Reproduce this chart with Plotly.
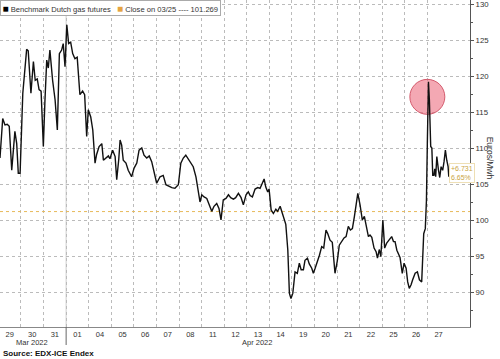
import plotly.graph_objects as go

# ---- data ----
day_labels = ["29", "30", "31", "01", "04", "05", "06", "07", "08", "11",
              "12", "13", "14", "19", "20", "21", "22", "25", "26", "27"]
month_labels = ["Mar 2022", "Apr 2022"]
month_label_pos = [1.49, 11.46]      # trading-day position of month label
month_break = 3                      # boundary between 31 Mar and 01 Apr

# trading-day position (day index + fraction of session) and price (EUR/MWh)
t = [0.07, 0.19, 0.29, 0.39, 0.48, 0.59, 0.73, 0.81, 0.88, 0.96,
     1.08, 1.18, 1.25, 1.32, 1.44, 1.55, 1.63, 1.72, 1.80, 1.89,
     1.99, 2.06, 2.14, 2.21, 2.28, 2.40, 2.51, 2.61, 2.70, 2.80,
     2.87, 2.95, 3.03, 3.11, 3.20, 3.29, 3.39, 3.49, 3.61, 3.73,
     3.82, 3.91, 3.98, 4.09, 4.18, 4.28, 4.35, 4.46, 4.58, 4.65,
     4.77, 4.87, 4.94, 5.06, 5.17, 5.24, 5.33, 5.39, 5.46, 5.53,
     5.65, 5.75, 5.90, 6.01, 6.13, 6.23, 6.35, 6.45, 6.57, 6.68,
     6.79, 6.89, 7.01, 7.16, 7.30, 7.42, 7.53, 7.68, 7.82, 7.97,
     8.08, 8.19, 8.30, 8.41, 8.52, 8.63, 8.75, 8.86, 8.93, 9.01,
     9.11, 9.23, 9.34, 9.45, 9.55, 9.67, 9.77, 9.86, 9.96, 10.08,
     10.19, 10.29, 10.41, 10.51, 10.63, 10.75, 10.85, 10.97, 11.07, 11.15,
     11.25, 11.37, 11.49, 11.59, 11.66, 11.77, 11.84, 11.93, 11.99, 12.08,
     12.18, 12.29, 12.37, 12.48, 12.58, 12.67, 12.73, 12.82, 12.89, 12.96,
     13.04, 13.14, 13.24, 13.33, 13.41, 13.51, 13.58, 13.69, 13.77, 13.88,
     13.95, 14.03, 14.13, 14.22, 14.32, 14.41, 14.51, 14.59, 14.69, 14.79,
     14.91, 15.01, 15.10, 15.21, 15.31, 15.40, 15.50, 15.59, 15.68, 15.77,
     15.84, 15.92, 16.02, 16.12, 16.21, 16.29, 16.39, 16.46, 16.54, 16.64,
     16.73, 16.79, 16.87, 16.94, 17.03, 17.11, 17.20, 17.30, 17.42, 17.50,
     17.57, 17.65, 17.72, 17.79, 17.89, 17.97, 18.06, 18.13, 18.20, 18.28,
     18.35, 18.46, 18.56, 18.65, 18.75, 18.80, 18.84, 18.91, 18.96, 19.00,
     19.05, 19.09, 19.15, 19.20, 19.24, 19.29, 19.33, 19.37, 19.42, 19.49,
     19.55, 19.61, 19.68, 19.74, 19.80, 19.86, 19.92, 19.95]
price = [108.7, 114.2, 113.3, 113.4, 113.1, 107.0, 112.4, 110.7, 106.6, 106.6,
         117.7, 121.9, 123.8, 123.6, 117.7, 122.1, 119.5, 119.7, 118.2, 118.0,
         110.3, 116.6, 122.3, 121.2, 123.7, 119.5, 116.8, 112.6, 123.2, 123.7,
         124.6, 121.4, 127.2, 124.6, 124.8, 123.2, 122.5, 122.7, 117.5, 118.0,
         117.5, 111.7, 115.4, 114.4, 112.6, 108.0, 109.2, 110.3, 110.7, 108.4,
         108.8, 109.0, 108.6, 109.8, 108.9, 105.7, 108.5, 111.2, 110.5, 108.4,
         108.0, 107.0, 106.1, 107.3, 108.0, 109.8, 110.1, 109.1, 108.7, 109.0,
         108.2, 107.0, 105.2, 106.1, 106.3, 105.0, 104.8, 104.6, 104.5, 105.0,
         108.0, 108.7, 109.1, 108.6, 108.0, 107.5, 106.1, 104.3, 102.6, 103.6,
         103.3, 103.1, 102.2, 101.3, 102.0, 102.4, 101.7, 100.1, 102.9, 103.1,
         103.6, 103.2, 103.0, 103.2, 103.8, 103.2, 102.2, 103.6, 104.0, 103.5,
         103.3, 104.4, 104.6, 104.5, 105.0, 105.8, 104.7, 104.0, 104.4, 101.5,
         101.0, 101.6, 101.3, 102.0, 101.0, 100.1, 99.5, 95.9, 89.9, 89.2,
         89.9, 92.9, 92.7, 94.1, 93.2, 93.2, 94.5, 94.8, 94.0, 93.4,
         92.7, 93.4, 94.3, 95.2, 96.4, 96.2, 98.7, 98.2, 97.3, 97.0,
         92.7, 94.4, 96.6, 97.1, 97.6, 97.8, 99.2, 98.7, 98.9, 100.6,
         102.4, 103.8, 102.2, 100.1, 100.6, 99.4, 97.8, 98.0, 97.7, 96.2,
         95.7, 94.8, 96.0, 95.0, 100.1, 96.2, 96.9, 97.3, 97.8, 97.1,
         97.1, 95.9, 95.4, 94.9, 92.7, 94.1, 93.4, 91.5, 90.6, 91.1,
         91.8, 92.7, 92.9, 91.8, 91.5, 94.6, 98.2, 98.9, 102.8, 110.7,
         119.3, 116.8, 110.3, 110.1, 106.3, 106.3, 107.2, 106.1, 108.9, 107.1,
         106.0, 107.5, 107.0, 108.2, 109.8, 108.4, 107.5, 106.1]
close_value = 101.269
close_label = "03/25"
change_text = "+6.731"
change_pct_text = "6.65%"
y_ticks = [90, 95, 100, 105, 110, 115, 120, 125, 130]

FONT = "Liberation Sans, Arial, sans-serif"
TXT = "#333333"
n_days = len(day_labels)
X_RANGE = [0.07, 20.89]

fig = go.Figure()

# highlight circle around the final-day spike (derived from the data)
last_day = [i for i, v in enumerate(t) if v >= n_days - 1]
i_pk = max(last_day, key=lambda i: price[i])
fig.add_trace(go.Scatter(
    x=[t[i_pk] - 0.05], y=[price[i_pk] - 2.1], mode="markers",
    marker=dict(size=35, color="rgba(236,110,128,0.6)",
                line=dict(color="rgba(205,70,90,0.85)", width=1)),
    showlegend=False, hoverinfo="skip"))

# close reference line
fig.add_trace(go.Scatter(
    x=X_RANGE, y=[close_value, close_value], mode="lines",
    line=dict(color="#E7B95A", width=1, dash="dot"),
    showlegend=False, hoverinfo="skip"))

# price line
fig.add_trace(go.Scatter(
    x=t, y=price, mode="lines",
    line=dict(color="#111111", width=1.4),
    showlegend=False))

fig.update_layout(
    width=500, height=359,
    margin=dict(l=0, r=30, t=0, b=32, pad=0, autoexpand=False),
    paper_bgcolor="white", plot_bgcolor="white",
    font=dict(family=FONT, size=7.5, color=TXT),
    xaxis=dict(
        range=X_RANGE, automargin=False,
        tickvals=[i + 0.5 for i in range(n_days)],
        ticktext=day_labels,
        ticks="", showgrid=False, zeroline=False,
        showline=True, linecolor="#888888", linewidth=1,
        tickfont=dict(size=7.5, color=TXT),
        minor=dict(tickvals=[i for i in range(1, n_days)],
                   showgrid=True, griddash="dot",
                   gridcolor="#BBBBBB", gridwidth=1, ticks=""),
    ),
    yaxis=dict(
        side="right", range=[85.24, 130.65], automargin=False,
        tickvals=y_ticks, ticks="outside", ticklen=3,
        tickcolor="#555555", showline=True, linecolor="#555555",
        linewidth=1, zeroline=False,
        showgrid=True, griddash="dot", gridcolor="#BBBBBB", gridwidth=1,
        tickfont=dict(size=7.8, color=TXT),
        minor=dict(dtick=2.5, tick0=0, ticks="outside", ticklen=2,
                   tickcolor="#555555", showgrid=False),
    ),
    showlegend=False,
)

# month boundary lines
fig.add_shape(type="line", xref="x", yref="paper",
              x0=month_break, x1=month_break, y0=0, y1=1,
              line=dict(color="#CCCCCC", width=1), layer="below")
fig.add_shape(type="line", xref="x", yref="paper",
              x0=month_break, x1=month_break, y0=-0.055, y1=0,
              line=dict(color="#666666", width=1))

for lbl, pos in zip(month_labels, month_label_pos):
    fig.add_annotation(x=pos, y=-0.048, xref="x", yref="paper",
                       text=lbl, showarrow=False,
                       font=dict(size=7.5, color=TXT),
                       xanchor="center", yanchor="middle")

# legend box
fig.add_annotation(
    x=0, y=1, xref="paper", yref="paper", xanchor="left", yanchor="top",
    showarrow=False, align="left",
    text=("<span style='font-size:10px;color:#000000'>■</span> Benchmark Dutch gas futures"
          "   <span style='font-size:10px;color:#E5A340'>■</span> Close on " + close_label +
          " ---- " + f"{close_value:.3f}"),
    font=dict(size=7.6, color=TXT),
    bgcolor="white", bordercolor="#AAAAAA", borderwidth=1, borderpad=1.5)

# change label at the last point
fig.add_annotation(
    x=t[-1], y=price[-1], xref="x", yref="y", xanchor="left", yanchor="middle",
    yshift=4, showarrow=False, align="left",
    text=change_text + "<br>" + change_pct_text,
    font=dict(size=7, color="#C9A43F"),
    bgcolor="white", bordercolor="#EEDFB5", borderwidth=1, borderpad=1)

# axis title
fig.add_annotation(x=1.058, y=0.517, xref="paper", yref="paper",
                   text="Euros/Mwh", textangle=90, showarrow=False,
                   font=dict(size=8.5, color=TXT))

# source
fig.add_annotation(x=0.003, y=-0.082, xref="paper", yref="paper",
                   text="<b>Source: EDX-ICE Endex</b>", showarrow=False,
                   xanchor="left", yanchor="middle",
                   font=dict(size=8, color="#111111"))

fig.write_html("out.html",
               config={"displayModeBar": False},
               post_script="document.body.style.margin='0';"
                           "document.body.style.overflow='hidden';")
